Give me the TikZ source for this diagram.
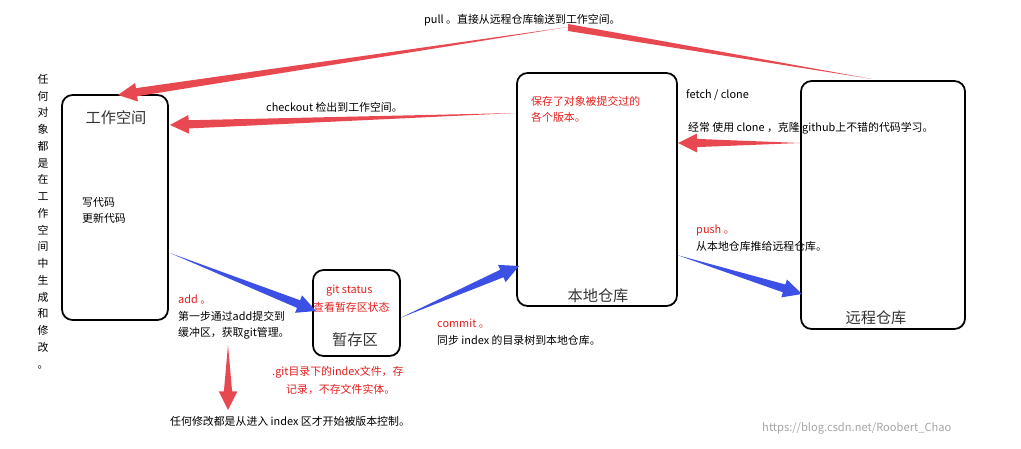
\documentclass[tikz,border=0pt]{standalone}
\usepackage{fontspec}
\setmainfont{Noto Sans CJK SC}
\usetikzlibrary{calc}
\definecolor{ared}{RGB}{232,72,80}
\definecolor{ablue}{RGB}{60,80,230}
\definecolor{tred}{RGB}{230,30,30}
\tikzset{
 box/.style={draw=black,line width=1.5pt,rounded corners=9pt},
 txt/.style={font=\fontsize{9.3}{10}\selectfont,anchor=west,inner sep=0pt},
 rtxt/.style={txt,text=tred},
 big/.style={font=\fontsize{13}{14}\selectfont,text=black!80,inner sep=0pt},
}
\newcommand\taper[3]{%
 \coordinate (H) at ($(#2)!16pt!(#1)$);
 \fill[#3] (#1) -- ($(H)!3.5pt!90:(#1)$) -- ($(H)!8pt!90:(#1)$) -- (#2) -- ($(H)!8pt!-90:(#1)$) -- ($(H)!3.5pt!-90:(#1)$) -- cycle;}
\begin{document}
\begin{tikzpicture}[x=0.03cm,y=-0.03cm]
\useasboundingbox (0,0) rectangle (1021,448);
% boxes
\draw[box] (62,95) rectangle (168,320);
\draw[box] (313,270) rectangle (400,356);
\draw[box] (517,73) rectangle (677,306);
\draw[box] (801,81) rectangle (965,329);
\node[big] (ws) at (116,118) {工作空间};
\node[big] (st) at (355,340) {暂存区};
\node[big] (lr) at (598,296) {本地仓库};
\node[big] (rr) at (876,318) {远程仓库};
% texts
\node[txt] (pull) at (424,20) {pull 。直接从远程仓库输送到工作空间。};
\node[txt,anchor=north,align=center,font=\fontsize{9.3}{14.3}\selectfont] (vt) at (43,74) {任\\何\\对\\象\\都\\是\\在\\工\\作\\空\\间\\中\\生\\成\\和\\修\\改\\。};
\node[txt] (w1) at (82,202) {写代码};
\node[txt] (w2) at (82,218) {更新代码};
\node[txt] (co) at (266,107) {checkout 检出到工作空间。};
\node[rtxt] (s1) at (531,101) {保存了对象被提交过的};
\node[rtxt] (s2) at (531,117) {各个版本。};
\node[txt] (fc) at (686,95) {fetch / clone};
\node[txt] (fc2) at (688,128) {经常 使用 clone ，克隆 github上不错的代码学习。};
\node[rtxt] (p1) at (696,230) {push 。};
\node[txt] (p2) at (696,246) {从本地仓库推给远程仓库。};
\node[rtxt] (g1) at (326,291) {git status};
\node[rtxt] (g2) at (313,307) {查看暂存区状态};
\node[rtxt] (a1) at (178,299) {add 。};
\node[txt] (a2) at (178,316) {第一步通过add提交到};
\node[txt] (a3) at (178,333) {缓冲区，获取git管理。};
\node[rtxt] (c1) at (437,324) {commit 。};
\node[txt] (c2) at (437,340) {同步 index 的目录树到本地仓库。};
\node[rtxt] (i1) at (272,372) {.git目录下的index文件，存};
\node[rtxt] (i2) at (286,389) {记录，不存文件实体。};
\node[txt] (bt) at (170,421) {任何修改都是从进入 index 区才开始被版本控制。};
\node[txt,text=black!35,font=\fontsize{9.5}{10}\selectfont] (wm) at (762,428) {https://blog.csdn.net/Roobert\_Chao};
% arrows
\coordinate (pa) at (872,79);
\coordinate (pb) at (568,27);
\coordinate (pc) at (118,95);
\fill[ared] (pa) -- ($(pb)+(0,-3)$) -- ($(pb)+(0,4)$) -- cycle;
\taper{pb}{pc}{ared}
\coordinate (ca) at (516,113); \coordinate (cb) at (170,125);
\taper{ca}{cb}{ared}
\coordinate (fa) at (800,143); \coordinate (fb) at (678,143);
\taper{fa}{fb}{ared}
\coordinate (da) at (228,345); \coordinate (db) at (228,410);
\taper{da}{db}{ared}
\coordinate (aa) at (170,253); \coordinate (ab) at (316,311);
\taper{aa}{ab}{ablue}
\coordinate (ma) at (400,318); \coordinate (mb) at (519,266);
\taper{ma}{mb}{ablue}
\coordinate (ua) at (677,255); \coordinate (ub) at (802,294);
\taper{ua}{ub}{ablue}
\end{tikzpicture}
\end{document}
